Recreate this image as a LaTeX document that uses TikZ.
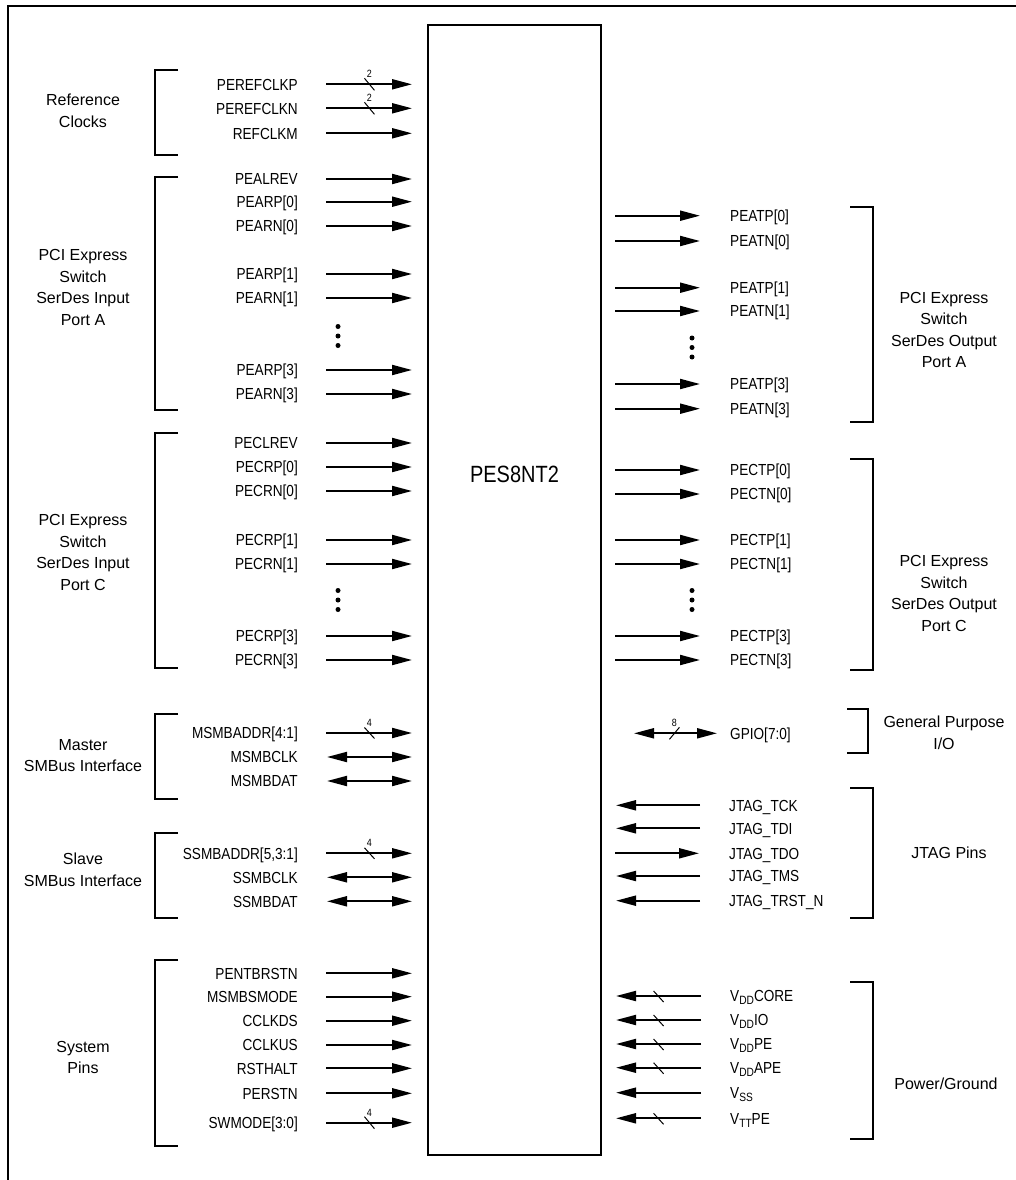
\documentclass[tikz,border=0pt]{standalone}
\usepackage{fontspec}
\setmainfont{Liberation Sans}
\newfontfamily\pinfont[FakeStretch=0.85]{Liberation Sans}
\usetikzlibrary{arrows.meta,positioning}
\newcommand{\pinsub}[1]{\raisebox{-3pt}{\fontsize{12}{12}\selectfont #1}}
\tikzset{pinname/.style={font=\pinfont\fontsize{16}{16}\selectfont,inner sep=0pt,text height=11.5pt,text depth=0pt},
  pinl/.style={pinname,anchor=east},
  pinr/.style={pinname,anchor=west},
  grouptxt/.style={font=\fontsize{16}{21.5}\selectfont,align=center,inner sep=0pt},
  busnum/.style={font=\pinfont\fontsize{10.5}{10.5}\selectfont,inner sep=0pt},
  tip/.tip={Triangle[length=20pt,width=10pt]}}

\begin{document}
\begin{tikzpicture}[x=1pt,y=-1pt]
        \tikzstyle{sig}=[line width=2pt];
        \tikzstyle{inarr}=[sig,-tip,shorten <=28pt,shorten >=15pt];
        \tikzstyle{biarr}=[sig,tip-tip,shorten <=29pt,shorten >=15pt];
        \tikzstyle{outarr}=[sig,-tip,shorten <=13pt,shorten >=30pt];
        \tikzstyle{backarr}=[sig,-tip,shorten <=29pt,shorten >=14pt];
        \tikzstyle{gpioarr}=[sig,tip-tip,shorten <=32pt,shorten >=13pt];
        \tikzstyle{slash}=[line width=1pt];
        \tikzstyle{brkt}=[line width=2pt];
        \useasboundingbox (0,0) rectangle (1016,1180);
        \draw[line width=2.2pt] (8,1180) -- (8,6) -- (1016,6);

        \node[draw,line width=2pt,minimum width=173pt,minimum height=1130pt,inner sep=0pt] (chip) at (514.5,590) {};
        \node[font=\pinfont\fontsize{23.5}{23.5}\selectfont,inner sep=0pt] (chipname) at (514.5,474) {PES8NT2};

        % reference clocks
        \node[grouptxt] (refclk) at (83,111) {Reference\\Clocks};
        \draw[brkt] (178,70) -- (155,70) -- (155,155) -- (178,155);
        \node[pinl] (perefclkp) at (298,84.3) {PEREFCLKP};
        \node[pinl] (perefclkn) at (298,108.3) {PEREFCLKN};
        \node[pinl] (refclkm) at (298,133.3) {REFCLKM};
        \draw[inarr] (perefclkp.east) -- (perefclkp.east -| chip.west) coordinate[pos=0.554] (perefclkp-b);
        \draw[inarr] (perefclkn.east) -- (perefclkn.east -| chip.west) coordinate[pos=0.554] (perefclkn-b);
        \draw[inarr] (refclkm.east) -- (refclkm.east -| chip.west);
        \draw[slash] ([shift={(-5,-6)}]perefclkp-b) -- ([shift={(5,6)}]perefclkp-b);
        \node[busnum] (perefclkp-w) at ([shift={(0,-10)}]perefclkp-b) {2};
        \draw[slash] ([shift={(-5,-6)}]perefclkn-b) -- ([shift={(5,6)}]perefclkn-b);
        \node[busnum] (perefclkn-w) at ([shift={(0,-10)}]perefclkn-b) {2};

        % serdes input port A
        \node[grouptxt] (inporta) at (83,287.5) {PCI Express\\Switch\\SerDes Input\\Port A};
        \draw[brkt] (178,177) -- (155,177) -- (155,410) -- (178,410);
        \node[pinl] (pealrev) at (298,179) {PEALREV};
        \node[pinl] (pearp0) at (298,201.7) {PEARP[0]};
        \node[pinl] (pearn0) at (298,226) {PEARN[0]};
        \node[pinl] (pearp1) at (298,274) {PEARP[1]};
        \node[pinl] (pearn1) at (298,298) {PEARN[1]};
        \node[pinl] (pearp3) at (298,370) {PEARP[3]};
        \node[pinl] (pearn3) at (298,394) {PEARN[3]};
        \draw[inarr] (pealrev.east) -- (pealrev.east -| chip.west);
        \draw[inarr] (pearp0.east) -- (pearp0.east -| chip.west);
        \draw[inarr] (pearn0.east) -- (pearn0.east -| chip.west);
        \draw[inarr] (pearp1.east) -- (pearp1.east -| chip.west);
        \draw[inarr] (pearn1.east) -- (pearn1.east -| chip.west);
        \draw[inarr] (pearp3.east) -- (pearp3.east -| chip.west);
        \draw[inarr] (pearn3.east) -- (pearn3.east -| chip.west);
        \fill (338,326.5) circle (2.5) (338,336) circle (2.5) (338,345.5) circle (2.5);

        % serdes input port C
        \node[grouptxt] (inportc) at (83,552.5) {PCI Express\\Switch\\SerDes Input\\Port C};
        \draw[brkt] (178,433) -- (155,433) -- (155,668) -- (178,668);
        \node[pinl] (peclrev) at (298,443) {PECLREV};
        \node[pinl] (pecrp0) at (298,467) {PECRP[0]};
        \node[pinl] (pecrn0) at (298,491) {PECRN[0]};
        \node[pinl] (pecrp1) at (298,540) {PECRP[1]};
        \node[pinl] (pecrn1) at (298,564) {PECRN[1]};
        \node[pinl] (pecrp3) at (298,636) {PECRP[3]};
        \node[pinl] (pecrn3) at (298,660) {PECRN[3]};
        \draw[inarr] (peclrev.east) -- (peclrev.east -| chip.west);
        \draw[inarr] (pecrp0.east) -- (pecrp0.east -| chip.west);
        \draw[inarr] (pecrn0.east) -- (pecrn0.east -| chip.west);
        \draw[inarr] (pecrp1.east) -- (pecrp1.east -| chip.west);
        \draw[inarr] (pecrn1.east) -- (pecrn1.east -| chip.west);
        \draw[inarr] (pecrp3.east) -- (pecrp3.east -| chip.west);
        \draw[inarr] (pecrn3.east) -- (pecrn3.east -| chip.west);
        \fill (338,590.5) circle (2.5) (338,600) circle (2.5) (338,609.5) circle (2.5);

        % master smbus
        \node[grouptxt] (msmb) at (83,755.5) {Master\\SMBus Interface};
        \draw[brkt] (178,714) -- (155,714) -- (155,799) -- (178,799);
        \node[pinl] (msmbaddr) at (298,733) {MSMBADDR[4:1]};
        \node[pinl] (msmbclk) at (298,757) {MSMBCLK};
        \node[pinl] (msmbdat) at (298,781) {MSMBDAT};
        \draw[inarr] (msmbaddr.east) -- (msmbaddr.east -| chip.west) coordinate[pos=0.554] (msmbaddr-b);
        \draw[biarr] (msmbclk.east) -- (msmbclk.east -| chip.west);
        \draw[biarr] (msmbdat.east) -- (msmbdat.east -| chip.west);
        \draw[slash] ([shift={(-5,-5.5)}]msmbaddr-b) -- ([shift={(5,5.5)}]msmbaddr-b);
        \node[busnum] (msmbaddr-w) at ([shift={(0,-10)}]msmbaddr-b) {4};

        % slave smbus
        \node[grouptxt] (ssmb) at (83,870) {Slave\\SMBus Interface};
        \draw[brkt] (178,833) -- (155,833) -- (155,918) -- (178,918);
        \node[pinl] (ssmbaddr) at (298,853.3) {SSMBADDR[5,3:1]};
        \node[pinl] (ssmbclk) at (298,877.3) {SSMBCLK};
        \node[pinl] (ssmbdat) at (298,901.3) {SSMBDAT};
        \draw[inarr] (ssmbaddr.east) -- (ssmbaddr.east -| chip.west) coordinate[pos=0.554] (ssmbaddr-b);
        \draw[biarr] (ssmbclk.east) -- (ssmbclk.east -| chip.west);
        \draw[biarr] (ssmbdat.east) -- (ssmbdat.east -| chip.west);
        \draw[slash] ([shift={(-5,-5.5)}]ssmbaddr-b) -- ([shift={(5,5.5)}]ssmbaddr-b);
        \node[busnum] (ssmbaddr-w) at ([shift={(0,-10)}]ssmbaddr-b) {4};

        % system pins
        \node[grouptxt] (syspins) at (83,1057.5) {System\\Pins};
        \draw[brkt] (178,960) -- (155,960) -- (155,1146) -- (178,1146);
        \node[pinl] (pentbrstn) at (298,973.3) {PENTBRSTN};
        \node[pinl] (msmbsmode) at (298,996.7) {MSMBSMODE};
        \node[pinl] (cclkds) at (298,1020.7) {CCLKDS};
        \node[pinl] (cclkus) at (298,1045) {CCLKUS};
        \node[pinl] (rsthalt) at (298,1068.3) {RSTHALT};
        \node[pinl] (perstn) at (298,1093.3) {PERSTN};
        \node[pinl] (swmode) at (298,1122.7) {SWMODE[3:0]};
        \draw[inarr] (pentbrstn.east) -- (pentbrstn.east -| chip.west);
        \draw[inarr] (msmbsmode.east) -- (msmbsmode.east -| chip.west);
        \draw[inarr] (cclkds.east) -- (cclkds.east -| chip.west);
        \draw[inarr] (cclkus.east) -- (cclkus.east -| chip.west);
        \draw[inarr] (rsthalt.east) -- (rsthalt.east -| chip.west);
        \draw[inarr] (perstn.east) -- (perstn.east -| chip.west);
        \draw[inarr] (swmode.east) -- (swmode.east -| chip.west) coordinate[pos=0.554] (swmode-b);
        \draw[slash] ([shift={(-5,-6)}]swmode-b) -- ([shift={(5,6)}]swmode-b);
        \node[busnum] (swmode-w) at ([shift={(0,-10)}]swmode-b) {4};

        % serdes output port A
        \node[grouptxt] (outporta) at (944,330) {PCI Express\\Switch\\SerDes Output\\Port A};
        \draw[brkt] (850,207) -- (873,207) -- (873,422) -- (850,422);
        \node[pinr] (peatp0) at (730,215.7) {PEATP[0]};
        \node[pinr] (peatn0) at (730,241) {PEATN[0]};
        \node[pinr] (peatp1) at (730,287.7) {PEATP[1]};
        \node[pinr] (peatn1) at (730,311) {PEATN[1]};
        \node[pinr] (peatp3) at (730,384) {PEATP[3]};
        \node[pinr] (peatn3) at (730,408.7) {PEATN[3]};
        \draw[outarr] (peatp0.west -| chip.east) -- (peatp0.west);
        \draw[outarr] (peatn0.west -| chip.east) -- (peatn0.west);
        \draw[outarr] (peatp1.west -| chip.east) -- (peatp1.west);
        \draw[outarr] (peatn1.west -| chip.east) -- (peatn1.west);
        \draw[outarr] (peatp3.west -| chip.east) -- (peatp3.west);
        \draw[outarr] (peatn3.west -| chip.east) -- (peatn3.west);
        \fill (692,338) circle (2.5) (692,347.5) circle (2.5) (692,357) circle (2.5);

        % serdes output port C
        \node[grouptxt] (outportc) at (944,593.5) {PCI Express\\Switch\\SerDes Output\\Port C};
        \draw[brkt] (850,459) -- (873,459) -- (873,670) -- (850,670);
        \node[pinr] (pectp0) at (730,470) {PECTP[0]};
        \node[pinr] (pectn0) at (730,494) {PECTN[0]};
        \node[pinr] (pectp1) at (730,540) {PECTP[1]};
        \node[pinr] (pectn1) at (730,564) {PECTN[1]};
        \node[pinr] (pectp3) at (730,636) {PECTP[3]};
        \node[pinr] (pectn3) at (730,660) {PECTN[3]};
        \draw[outarr] (pectp0.west -| chip.east) -- (pectp0.west);
        \draw[outarr] (pectn0.west -| chip.east) -- (pectn0.west);
        \draw[outarr] (pectp1.west -| chip.east) -- (pectp1.west);
        \draw[outarr] (pectn1.west -| chip.east) -- (pectn1.west);
        \draw[outarr] (pectp3.west -| chip.east) -- (pectp3.west);
        \draw[outarr] (pectn3.west -| chip.east) -- (pectn3.west);
        \fill (692,590.5) circle (2.5) (692,600) circle (2.5) (692,609.5) circle (2.5);

        % general purpose i/o
        \node[grouptxt] (gpioio) at (944,733) {General Purpose\\I/O};
        \draw[brkt] (847,709) -- (868,709) -- (868,753) -- (847,753);
        \node[pinr] (gpio) at (730,733.3) {GPIO[7:0]};
        \draw[gpioarr] (gpio.west -| chip.east) -- (gpio.west) coordinate[pos=0.566] (gpio-b);
        \draw[slash] ([shift={(-5,6)}]gpio-b) -- ([shift={(5,-6)}]gpio-b);
        \node[busnum] (gpio-w) at ([shift={(0,-10)}]gpio-b) {8};

        % jtag
        \node[grouptxt] (jtag) at (949,853) {JTAG Pins};
        \draw[brkt] (850,788) -- (873,788) -- (873,918) -- (850,918);
        \node[pinr] (jtagtck) at (729,805.3) {JTAG\_TCK};
        \node[pinr] (jtagtdi) at (729,828.3) {JTAG\_TDI};
        \node[pinr] (jtagtdo) at (729,853.3) {JTAG\_TDO};
        \node[pinr] (jtagtms) at (729,876) {JTAG\_TMS};
        \node[pinr] (jtagtrstn) at (729,900.7) {JTAG\_TRST\_N};
        \draw[backarr] (jtagtck.west) -- (jtagtck.west -| chip.east);
        \draw[backarr] (jtagtdi.west) -- (jtagtdi.west -| chip.east);
        \draw[outarr] (jtagtdo.west -| chip.east) -- (jtagtdo.west);
        \draw[backarr] (jtagtms.west) -- (jtagtms.west -| chip.east);
        \draw[backarr] (jtagtrstn.west) -- (jtagtrstn.west -| chip.east);

        % power and ground
        \node[grouptxt] (pwrgnd) at (946,1084) {Power/Ground};
        \draw[brkt] (850,982) -- (873,982) -- (873,1139) -- (850,1139);
        \node[pinr] (vddcore) at (730,996) {V\pinsub{DD}CORE};
        \node[pinr] (vddio) at (730,1020) {V\pinsub{DD}IO};
        \node[pinr] (vddpe) at (730,1044) {V\pinsub{DD}PE};
        \node[pinr] (vddape) at (730,1067.7) {V\pinsub{DD}APE};
        \node[pinr] (vss) at (730,1092.7) {V\pinsub{SS}};
        \node[pinr] (vttpe) at (730,1118.3) {V\pinsub{TT}PE};
        \draw[backarr] (vddcore.west) -- (vddcore.west -| chip.east) coordinate[pos=0.558] (vddcore-b);
        \draw[backarr] (vddio.west) -- (vddio.west -| chip.east) coordinate[pos=0.558] (vddio-b);
        \draw[backarr] (vddpe.west) -- (vddpe.west -| chip.east) coordinate[pos=0.558] (vddpe-b);
        \draw[backarr] (vddape.west) -- (vddape.west -| chip.east) coordinate[pos=0.558] (vddape-b);
        \draw[backarr] (vss.west) -- (vss.west -| chip.east);
        \draw[backarr] (vttpe.west) -- (vttpe.west -| chip.east) coordinate[pos=0.558] (vttpe-b);
        \draw[slash] ([shift={(-5,-5)}]vddcore-b) -- ([shift={(5,6)}]vddcore-b);
        \draw[slash] ([shift={(-5,-5)}]vddio-b) -- ([shift={(5,6)}]vddio-b);
        \draw[slash] ([shift={(-5,-5)}]vddpe-b) -- ([shift={(5,6)}]vddpe-b);
        \draw[slash] ([shift={(-5,-5)}]vddape-b) -- ([shift={(5,6)}]vddape-b);
        \draw[slash] ([shift={(-5,-5)}]vttpe-b) -- ([shift={(5,6)}]vttpe-b);
    \end{tikzpicture}
\end{document}
